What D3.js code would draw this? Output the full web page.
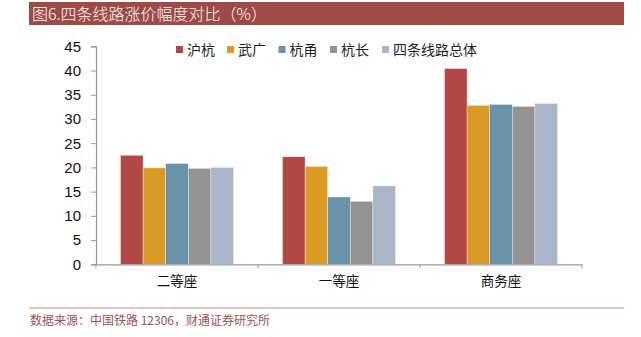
<!DOCTYPE html>
<html><head><meta charset="utf-8">
<script src="https://cdn.jsdelivr.net/npm/d3@7"></script>
<style>body{margin:0;background:#fff}svg{display:block}</style>
</head><body><svg id="c" width="641" height="337"></svg>
<script>
(function(){
const categories = ["二等座", "一等座", "商务座"];
const seriesNames = ["沪杭", "武广", "杭甬", "杭长", "四条线路总体"];
const huhang = [22.5, 22.2, 40.4];
const wuguang = [19.9, 20.2, 32.8];
const hangyong = [20.8, 13.9, 33.0];
const hangchang = [19.8, 13.0, 32.6];
const overall = [20.0, 16.2, 33.2];
const yTicks = [0, 5, 10, 15, 20, 25, 30, 35, 40, 45];
const colors = ["#B24846", "#D99B25", "#6993A9", "#939393", "#AAB6C8"];
const seriesValues = [huhang, wuguang, hangyong, hangchang, overall];

const svg = d3.select("#c");
const cjk = "'Noto Sans CJK SC', sans-serif";

// title bar
svg.append("rect").attr("x", 29).attr("y", 2).attr("width", 595).attr("height", 23).attr("fill", "#9E4A47");
svg.append("text").attr("x", 32).attr("y", 20).attr("fill", "#fff")
  .attr("font-family", cjk).attr("font-size", 16).attr("font-weight", 300).text("图6.四条线路涨价幅度对比（%）");

const pLeft = 96, pRight = 582, pTop = 46.3, pBottom = 264.3;
const x = d3.scaleBand().domain(categories).range([pLeft, pRight]);
const y = d3.scaleLinear().domain([0, 45]).range([pBottom, pTop]);
const groupPad = 24.5;
const xs = d3.scaleBand().domain(seriesNames)
  .range([groupPad, x.bandwidth() - groupPad]);

// bars
seriesNames.forEach((s, si) => {
  svg.append("g").selectAll("rect").data(seriesValues[si]).join("rect")
    .attr("x", (d, i) => x(categories[i]) + xs(s))
    .attr("y", d => y(d))
    .attr("width", xs.bandwidth())
    .attr("height", d => pBottom - y(d))
    .attr("fill", colors[si])
    .attr("stroke", "rgba(255,255,255,0.6)").attr("stroke-width", 0.6);
});

// y axis
const ya = svg.append("g").attr("transform", `translate(${pLeft},0)`)
  .call(d3.axisLeft(y).tickValues(yTicks).tickSize(5).tickPadding(10));
ya.select(".domain").attr("stroke", "#999").attr("stroke-width", 1.2);
ya.selectAll(".tick line").attr("stroke", "#999");
ya.selectAll(".tick text").attr("font-family", "'Liberation Sans', Arial, sans-serif")
  .attr("font-size", 15).attr("fill", "#111");

// x axis
const xa = svg.append("g").attr("transform", `translate(0,${pBottom})`)
  .call(d3.axisBottom(x).tickSize(0).tickPadding(12));
xa.select(".domain").attr("stroke", "#999").attr("stroke-width", 1.2);
xa.selectAll(".tick text").attr("font-family", cjk).attr("font-size", 13.5).attr("fill", "#111");
const bounds = [pLeft].concat(categories.map(c => x(c) + x.bandwidth()));
xa.selectAll("line.sep").data(bounds).join("line").attr("class", "sep")
  .attr("x1", d => d).attr("x2", d => d).attr("y1", 0).attr("y2", 4)
  .attr("stroke", "#999");

// legend
const legendX = [176, 227, 278.5, 330, 382];
const lg = svg.append("g");
seriesNames.forEach((s, i) => {
  lg.append("rect").attr("x", legendX[i]).attr("y", 46).attr("width", 7).attr("height", 7).attr("fill", colors[i]);
  lg.append("text").attr("x", legendX[i] + 11).attr("y", 55).attr("font-family", cjk)
    .attr("font-size", 14).attr("fill", "#222").text(s);
});

// footer
svg.append("line").attr("x1", 29).attr("x2", 624).attr("y1", 308).attr("y2", 308)
  .attr("stroke", "#C48C89").attr("stroke-width", 1);
svg.append("text").attr("x", 30).attr("y", 325).attr("font-family", cjk)
  .attr("font-size", 12).attr("fill", "#A0524F").text("数据来源：中国铁路 12306，财通证券研究所");
})();
</script></body></html>
